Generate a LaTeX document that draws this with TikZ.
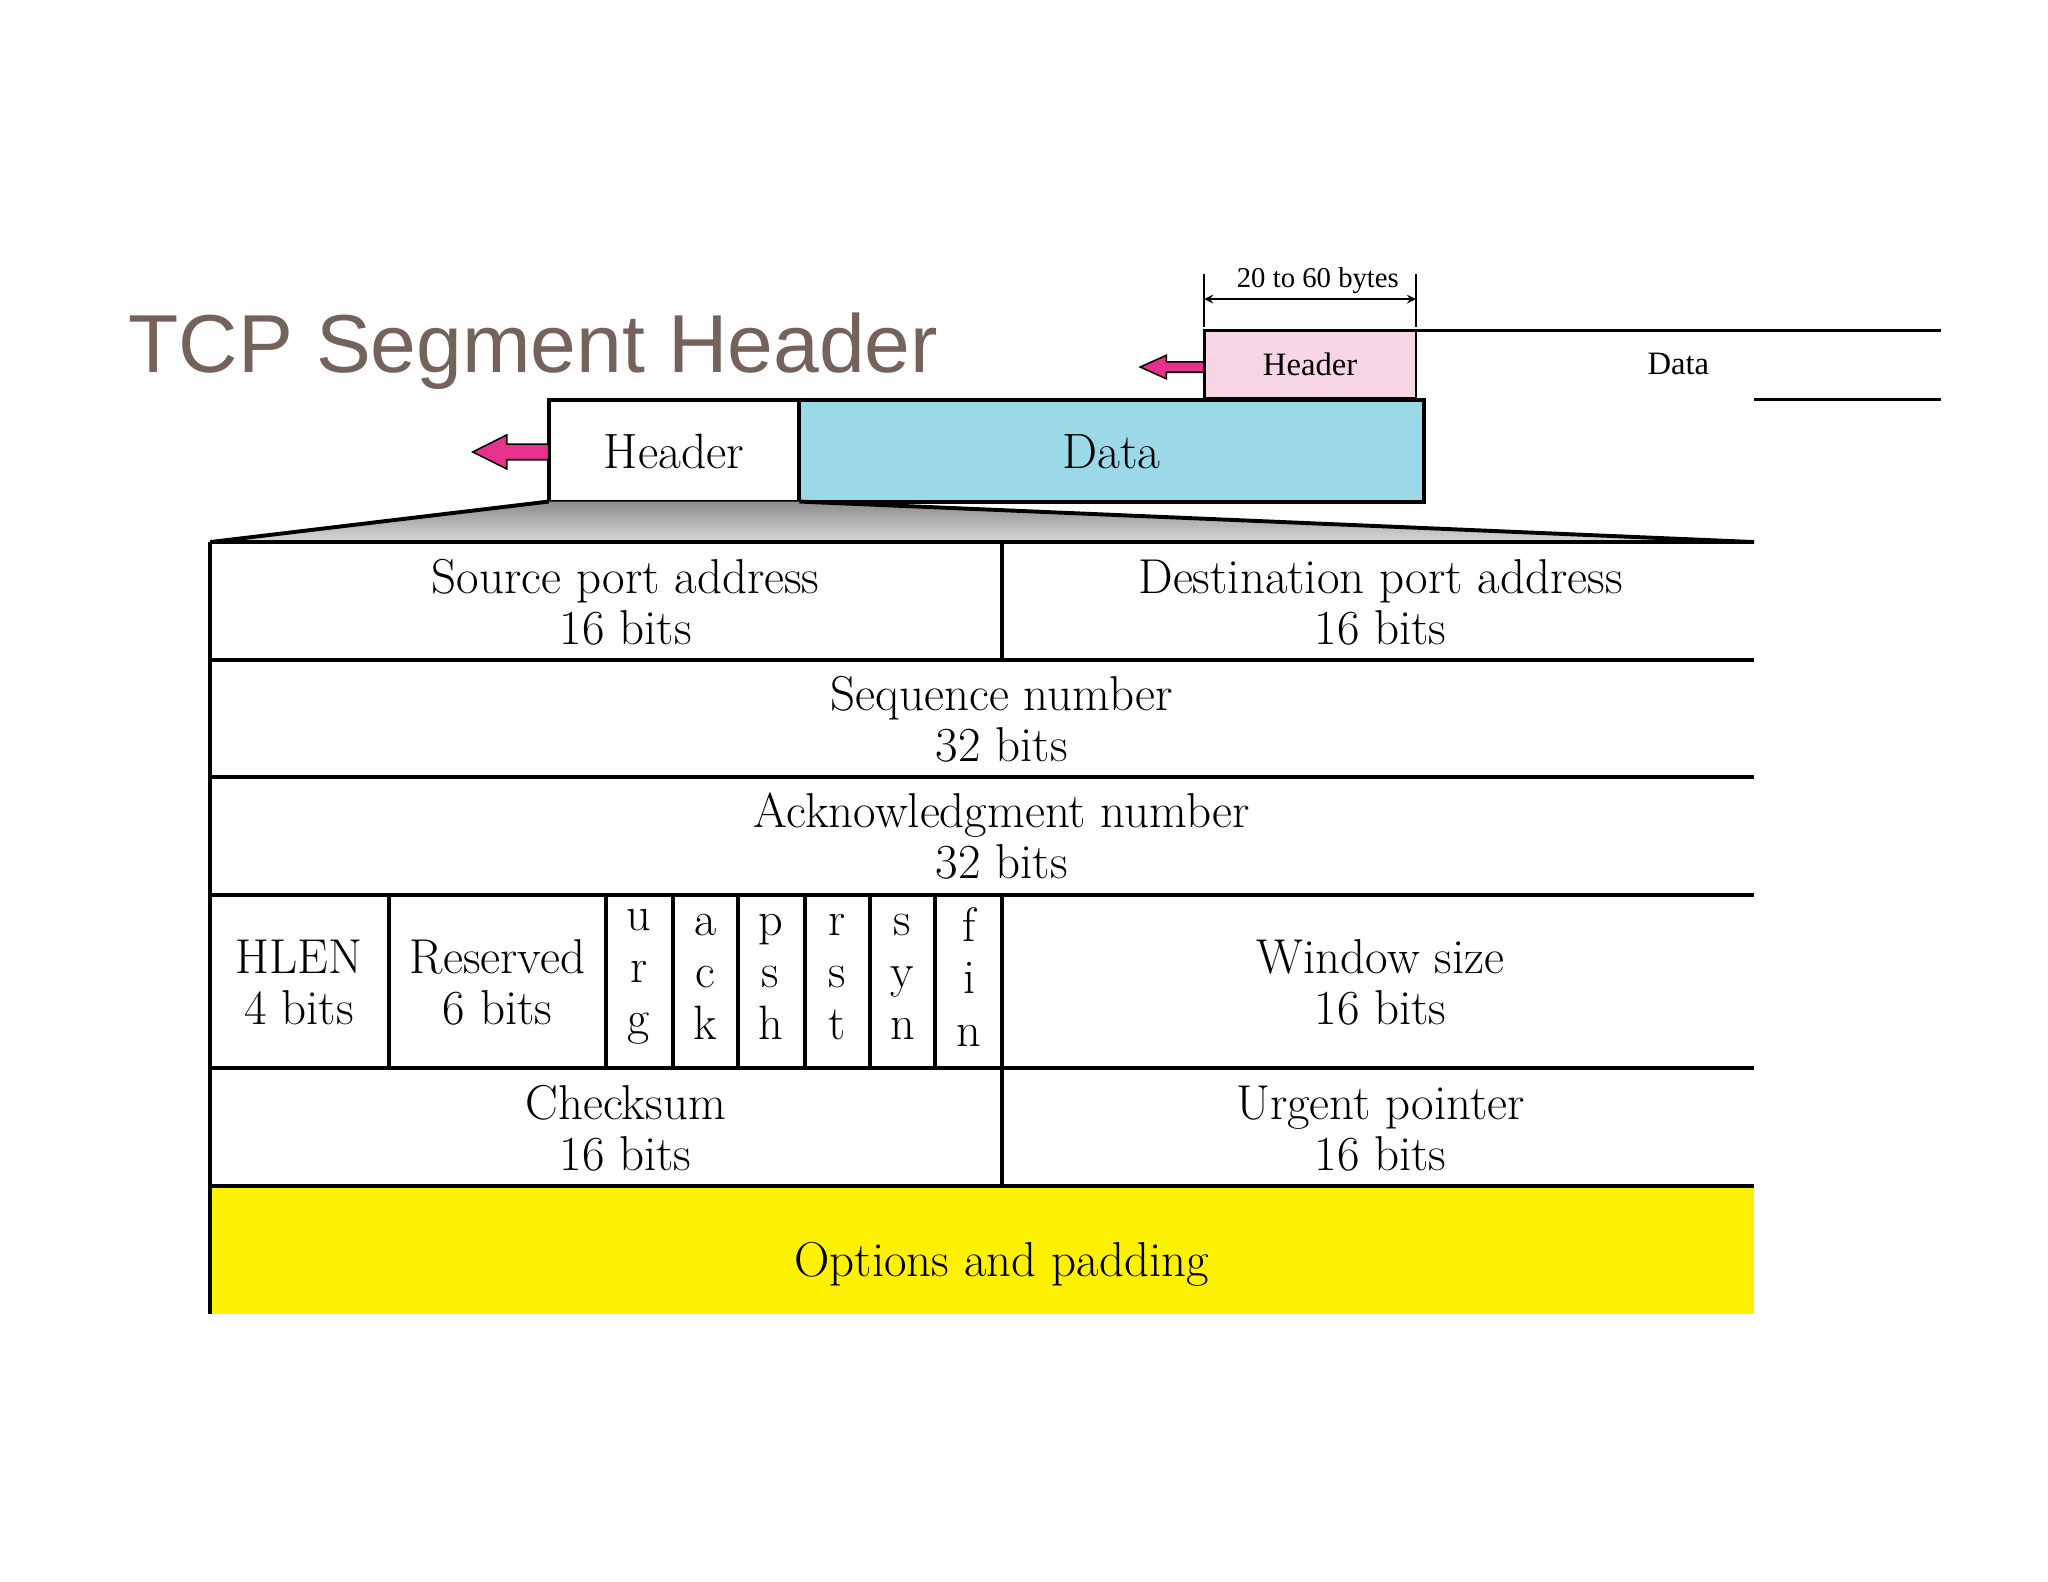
\documentclass[tikz,border=0pt]{standalone}
\usepackage{fontspec}
\newfontfamily\titlefont{Liberation Sans}
\newfontfamily\smallfont{Liberation Serif}
\begin{document}
\begin{tikzpicture}[x=1pt,y=-1pt,line width=3pt,
  cell/.style={font=\fontsize{37.5}{39}\selectfont,align=center,inner sep=0},
  flag/.style={font=\fontsize{37}{40}\selectfont,align=center,inner sep=0}]
\definecolor{titlec}{RGB}{117,98,90}
\definecolor{pinkc}{RGB}{246,214,228}
\definecolor{bluec}{RGB}{155,216,232}
\definecolor{arrc}{RGB}{230,50,140}
\useasboundingbox (0,0) rectangle (1568,1211);
% title
\node[anchor=base west,inner sep=0,text=titlec,font=\titlefont\fontsize{63}{70}\selectfont] (title) at (97,285) {TCP Segment Header};
% top small segment
\draw[line width=2pt,fill=pinkc] (922,253) rectangle (1084,305);
\node[font=\smallfont\fontsize{25}{28}\selectfont] (sh) at (1003,279) {Header};
\draw[line width=2pt] (1084,253) -- (1486,253);
\draw[line width=2pt] (1343,306) -- (1486,306);
\node[font=\smallfont\fontsize{25}{28}\selectfont] (sd) at (1285,279) {Data};
\draw[line width=1.2pt] (922,210) -- (922,250) (1084,210) -- (1084,250);
\coordinate (d1) at (922,229); \coordinate (d2) at (1084,229);
\draw[line width=2pt,<->,>=stealth] (d1) -- (d2);
\node[font=\smallfont\fontsize{22}{24}\selectfont] (dl) at (1009,215) {20 to 60 bytes};
\draw[line width=1.2pt,fill=arrc] (922,277) -- (893,277) -- (893,272) -- (873,281) -- (893,290) -- (893,285) -- (922,285) -- cycle;
% middle
\draw[fill=white] (420,306) rectangle (612,384);
\draw[fill=bluec] (612,306) rectangle (1090,384);
\node[font=\fontsize{38}{40}\selectfont] (mh) at (516,346) {Header};
\node[font=\fontsize{38}{40}\selectfont] (md) at (851,346) {Data};
\draw[line width=1.2pt,fill=arrc] (420,340) -- (388,340) -- (388,333) -- (362,346) -- (388,359) -- (388,352) -- (420,352) -- cycle;
% trapezoid
\shade[top color=black!45,bottom color=black!15] (420,384) -- (612,384) -- (1343,415) -- (161,415) -- cycle;
\draw (161,415) -- (420,384) (612,384) -- (1343,415);
% table
\fill[yellow] (161,908) rectangle (1343,1006);
\foreach \y in {415,505,595,685,818,908} \draw (161,\y) -- (1343,\y);
\draw (161,415) -- (161,1006);
\draw (767,415) -- (767,505) (767,685) -- (767,908);
\foreach \x in {298,464,515,565,616,666,716} \draw (\x,685) -- (\x,818);
\node[cell] (src) at (479,461) {Source port address\\16 bits};
\node[cell] (dst) at (1057,461) {Destination port address\\16 bits};
\node[cell] (seq) at (767,551) {Sequence number\\32 bits};
\node[cell] (ack) at (767,640) {Acknowledgment number\\32 bits};
\node[cell] (hlen) at (229,752) {HLEN\\4 bits};
\node[cell] (res) at (381,752) {Reserved\\6 bits};
\node[flag] (urg) at (489,748) {u\\r\\g};
\node[flag] (ackf) at (540,748) {a\\c\\k};
\node[flag] (psh) at (590,748) {p\\s\\h};
\node[flag] (rst) at (641,748) {r\\s\\t};
\node[flag] (syn) at (691,748) {s\\y\\n};
\node[flag] (fin) at (742,748) {f\\i\\n};
\node[cell] (win) at (1057,752) {Window size\\16 bits};
\node[cell] (chk) at (479,864) {Checksum\\16 bits};
\node[cell] (urp) at (1057,864) {Urgent pointer\\16 bits};
\node[cell] (opt) at (767,968) {Options and padding};
\end{tikzpicture}
\end{document}
